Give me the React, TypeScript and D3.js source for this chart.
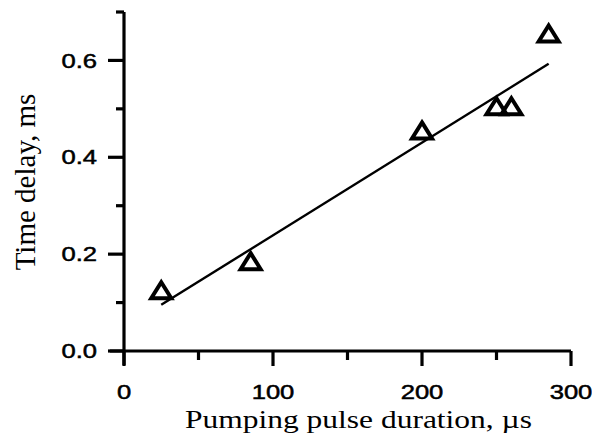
import { useMemo } from 'react'
import * as d3 from 'd3'

// Measured points (pulse duration in µs, time delay in ms)
const pulseDuration = [25, 85, 200, 250, 260, 285]
const timeDelay = [0.12, 0.18, 0.45, 0.5, 0.5, 0.65]

const xMajorTicks = [0, 100, 200, 300]
const xMinorTicks = [50, 150, 250]
const yMajorTicks = [0, 0.2, 0.4, 0.6]
const yMinorTicks = [0.1, 0.3, 0.5, 0.7]

const width = 592
const height = 443

function App() {
  const x = d3.scaleLinear().domain([0, 300]).range([124, 571])
  const y = d3.scaleLinear().domain([0, 0.7]).range([351, 12])

  // least-squares line through the points
  const fit = useMemo(() => {
    const mx = d3.mean(pulseDuration) as number
    const my = d3.mean(timeDelay) as number
    let sxy = 0
    let sxx = 0
    pulseDuration.forEach((v, i) => {
      sxy += (v - mx) * (timeDelay[i] - my)
      sxx += (v - mx) * (v - mx)
    })
    const slope = sxy / sxx
    const icpt = my - slope * mx
    const x0 = d3.min(pulseDuration) as number
    const x1 = d3.max(pulseDuration) as number
    return [
      [x0, icpt + slope * x0],
      [x1, icpt + slope * x1]
    ]
  }, [])

  const line = d3.line<number[]>()
    .x(d => x(d[0]))
    .y(d => y(d[1]))

  // open triangle, centred on its centroid
  const tri = (cx: number, cy: number) => {
    const w = 10
    const h = 16
    return `M${cx},${cy - (h * 2) / 3}L${cx + w},${cy + h / 3}L${cx - w},${cy + h / 3}Z`
  }

  const axisStroke = 3.2
  const tickFont = 'Liberation Sans, Arial, sans-serif'
  const titleFont = 'Liberation Serif, Times New Roman, serif'
  // the scanned figure is wider than tall, so labels get a horizontal stretch
  const stretch = 1.28

  return (
    <div style={{ position: 'absolute', left: 0, top: 0 }}>
      <svg width={width} height={height} style={{ display: 'block', background: '#fff' }}>
        {/* fit line */}
        <path d={line(fit) as string} fill="none" stroke="#000" strokeWidth={2.4} />

        {/* data markers */}
        {pulseDuration.map((v, i) => (
          <path
            key={i}
            d={tri(x(v), y(timeDelay[i]))}
            fill="none"
            stroke="#000"
            strokeWidth={4}
            strokeLinejoin="miter"
          />
        ))}

        {/* y axis */}
        <line x1={x(0)} x2={x(0)} y1={y(0) + 14} y2={y(0.7)} stroke="#000" strokeWidth={axisStroke} />
        {yMajorTicks.map(t => (
          <g key={'ym' + t}>
            <line x1={x(0) - 16} x2={x(0)} y1={y(t)} y2={y(t)} stroke="#000" strokeWidth={axisStroke} />
            <text
              transform={`translate(${x(0) - 27},${y(t)}) scale(${stretch},1)`}
              dy="0.36em"
              textAnchor="end"
              fontFamily={tickFont}
              fontSize={20}
              stroke="#000"
              strokeWidth={0.5}
            >
              {d3.format('.1f')(t)}
            </text>
          </g>
        ))}
        {yMinorTicks.map(t => (
          <line key={'yn' + t} x1={x(0) - 8} x2={x(0)} y1={y(t)} y2={y(t)} stroke="#000" strokeWidth={axisStroke} />
        ))}

        {/* x axis */}
        <line x1={x(0) - 14} x2={x(300)} y1={y(0)} y2={y(0)} stroke="#000" strokeWidth={axisStroke} />
        {xMajorTicks.map(t => (
          <g key={'xm' + t}>
            <line x1={x(t)} x2={x(t)} y1={y(0)} y2={y(0) + 15} stroke="#000" strokeWidth={axisStroke} />
            <text
              transform={`translate(${x(t)},399) scale(${stretch},1)`}
              textAnchor="middle"
              fontFamily={tickFont}
              fontSize={20}
              stroke="#000"
              strokeWidth={0.5}
            >
              {t}
            </text>
          </g>
        ))}
        {xMinorTicks.map(t => (
          <line key={'xn' + t} x1={x(t)} x2={x(t)} y1={y(0)} y2={y(0) + 9} stroke="#000" strokeWidth={axisStroke} />
        ))}

        {/* axis titles */}
        <text
          x={185}
          y={428}
          textLength={347}
          lengthAdjust="spacingAndGlyphs"
          fontFamily={titleFont}
          fontSize={26}
        >
          Pumping pulse duration, µs
        </text>
        <text
          transform={`translate(35,${182}) rotate(-90)`}
          textAnchor="middle"
          fontFamily={titleFont}
          fontSize={29}
        >
          Time delay, ms
        </text>
      </svg>
    </div>
  )
}

export default App
